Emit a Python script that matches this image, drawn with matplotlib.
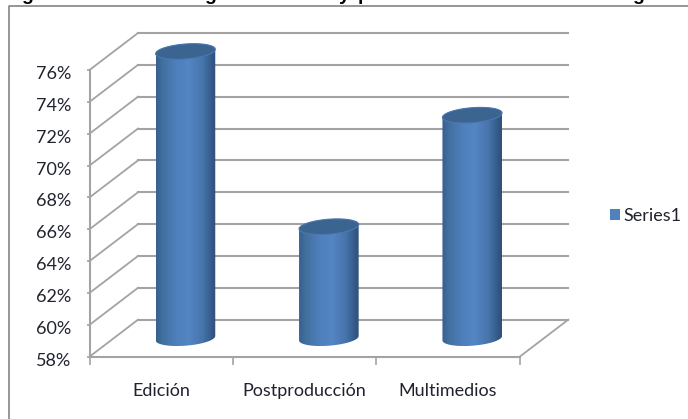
import numpy as np
import matplotlib
matplotlib.use('Agg')
import matplotlib.pyplot as plt
from matplotlib.lines import Line2D
from matplotlib.patches import Patch, PathPatch
from matplotlib.path import Path
from matplotlib.colors import LinearSegmentedColormap
from matplotlib.transforms import Affine2D

categories = ['Edición', 'Postproducción', 'Multimedios']
values = [76, 65, 72]
y_ticks = [58, 60, 62, 64, 66, 68, 70, 72, 74, 76]
series_name = 'Series1'

# cut-off heading: only the tails of these letters fall inside the canvas
heading_letters = ['g', 'g', 'y', 'p', 'g']
heading_x = [27, 210, 344, 364, 638]

W, H = 688, 419
GRID = '#a3a3a3'
TEXT = '#20222e'
BLUE = '#4f81bd'

plt.rcParams['font.family'] = ['Lato', 'DejaVu Sans']

fig = plt.figure(figsize=(W / 100, H / 100), dpi=100)

# front plane of the 3D box, in pixels
left, right, top, bottom = 89.5, 519.7, 70.0, 356.7
ax = fig.add_axes([left / W, 1 - bottom / H, (right - left) / W, (bottom - top) / H])
ax.patch.set_visible(False)

xmin, xmax = -0.5, len(categories) - 0.5
ax.set_xlim(xmin, xmax)
ax.set_ylim(y_ticks[0], y_ticks[-1])

depth_x, depth_y = 48.5, 37.0
back = ax.transData + Affine2D().translate(depth_x, depth_y)
mid = ax.transData + Affine2D().translate(depth_x / 2, depth_y / 2)

px_x = (right - left) / (xmax - xmin)
px_y = (bottom - top) / (y_ticks[-1] - y_ticks[0])
dx_data, dy_data = depth_x / px_x, depth_y / px_y

# walls: back gridline plus the diagonal running to the front axis
for v in y_ticks:
    ax.plot([xmin, xmax], [v, v], transform=back, color=GRID, lw=1.5, clip_on=False, zorder=1)
    ax.plot([xmin, xmin + dx_data], [v, v + dy_data], color=GRID, lw=1.3, clip_on=False, zorder=1)

# right edge of the floor
ax.plot([xmax, xmax + dx_data], [y_ticks[0], y_ticks[0] + dy_data], color=GRID, lw=1.3,
        clip_on=False, zorder=1)

body_cmap = LinearSegmentedColormap.from_list('cyl', [
    (0.0, '#38608f'), (0.12, '#42709f'), (0.35, '#4f80bd'), (0.55, '#5485c4'),
    (0.78, '#4674ab'), (0.93, '#355a88'), (1.0, '#2f4f78'),
])
gradient = np.linspace(0, 1, 256).reshape(1, -1)

half_w = 29.8 / px_x
minor = 7.5 / px_y
tilt = 2.2 / px_y
t = np.linspace(0, 2 * np.pi, 121)

for i, v in enumerate(values):
    # body outline: lower half of the base ellipse, then back over the top
    low, up = t[60:121], t[:61]
    base_x = i + half_w * np.cos(low)
    base_y = y_ticks[0] + minor * np.sin(low) + tilt * np.cos(low)
    top_x = i + half_w * np.cos(up)
    top_y = v + minor * np.sin(up) + tilt * np.cos(up)
    verts = np.column_stack([np.r_[base_x, top_x, base_x[0]], np.r_[base_y, top_y, base_y[0]]])
    outline = PathPatch(Path(verts, closed=True), transform=mid, facecolor='none', edgecolor='none',
                        clip_on=False)
    ax.add_patch(outline)
    im = ax.imshow(gradient, cmap=body_cmap, aspect='auto', zorder=3, transform=mid,
                   extent=(i - half_w, i + half_w, y_ticks[0] - 2 * minor, v + 2 * minor))
    im.set_clip_path(outline)
    im.set_clip_box(fig.bbox)

    cap = np.column_stack([i + half_w * np.cos(t), v + minor * np.sin(t) + tilt * np.cos(t)])
    ax.add_patch(PathPatch(Path(cap), transform=mid, facecolor='#3c6491', edgecolor='#4a78b0',
                           lw=0.8, zorder=4, clip_on=False))

ax.set_xlim(xmin, xmax)
ax.set_ylim(y_ticks[0], y_ticks[-1])

for side in ['top', 'right']:
    ax.spines[side].set_visible(False)
for side in ['left', 'bottom']:
    ax.spines[side].set_color(GRID)
    ax.spines[side].set_linewidth(1.5)

ax.set_yticks(y_ticks)
ax.set_yticklabels([f'{v}%' for v in y_ticks], color=TEXT, fontsize=13)
ax.tick_params(axis='y', length=2.5, width=1.2, color=GRID, pad=10.5)
# percent labels sit a little below their ticks
for label in ax.get_yticklabels():
    label.set_transform(label.get_transform() + Affine2D().translate(0, -2.5))

ax.set_xticks(np.arange(xmin, xmax + 1))
ax.set_xticklabels([])
ax.set_xticks(np.arange(len(categories)), minor=True)
ax.set_xticklabels(categories, minor=True, color=TEXT, fontsize=13)
ax.tick_params(axis='x', which='major', length=6, width=1.2, color=GRID)
ax.tick_params(axis='x', which='minor', length=0, pad=19)

ax.legend(handles=[Patch(facecolor=BLUE, edgecolor='none', label=series_name)],
          loc='center left', bbox_to_anchor=(610 / W, 1 - 216 / H), bbox_transform=fig.transFigure,
          frameon=False, borderpad=0, borderaxespad=0, handlelength=0.56, handleheight=0.56,
          handletextpad=0.2, labelcolor=TEXT, fontsize=13)

# chart area border, open towards the right and the bottom
fig.add_artist(Line2D([1, 8.5 / W, 8.5 / W], [1 - 6 / H, 1 - 6 / H, 0], color='#8e8e8e', lw=1.3))

for ch, x in zip(heading_letters, heading_x):
    fig.text(x / W, 1 - 0 / H, ch, ha='center', va='baseline', fontsize=14, fontweight='bold',
             family='Liberation Sans', color='black')

fig.savefig('out.png', dpi=100)
